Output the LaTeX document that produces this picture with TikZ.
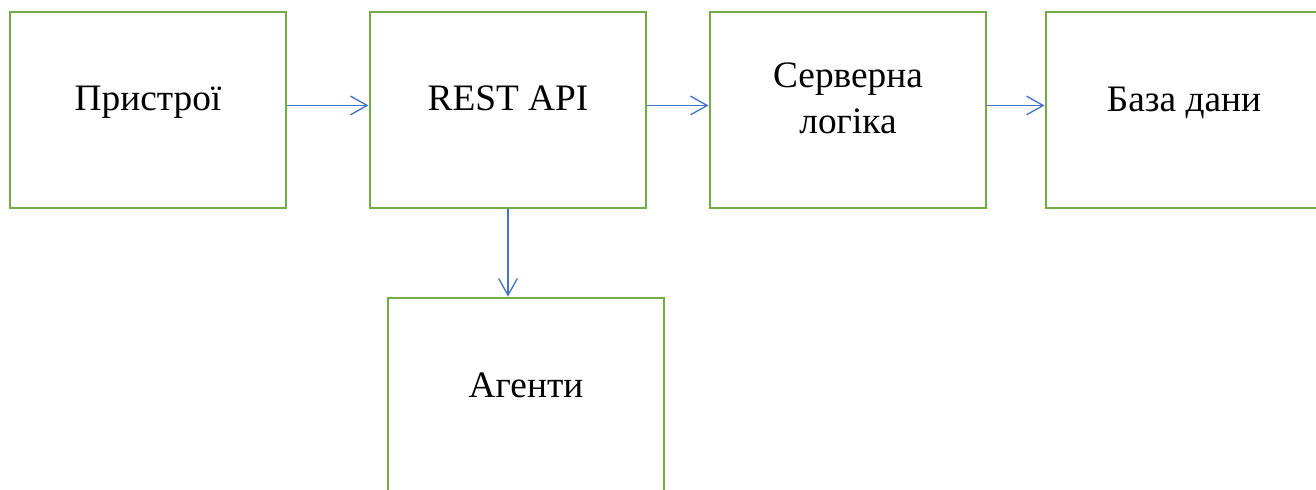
\documentclass[tikz,border=0pt]{standalone}
\usepackage{fontspec}
\setmainfont{Liberation Serif}
\usetikzlibrary{arrows.meta}
\definecolor{boxgreen}{HTML}{70AD47}
\definecolor{arrblue}{HTML}{4472C4}
\tikzset{
  blockbox/.style={draw=boxgreen, line width=2.2pt, rectangle, minimum width=207pt, minimum height=147pt, inner sep=0pt},
  lbl/.style={anchor=base, inner sep=0pt, font=\fontsize{28}{34.5}\selectfont, align=center},
  arr/.style={draw=arrblue, line width=1pt, -{Straight Barb[length=12.5pt,width=14pt,line width=1pt]}}
}
\begin{document}
\begin{tikzpicture}[x=0.75pt,y=-0.75pt]
\useasboundingbox (0,0) rectangle (1316,489);
\node[blockbox] (b1) at (148,110) {};
\node[blockbox] (b2) at (508,110) {};
\node[blockbox] (b3) at (848,110) {};
\node[blockbox] (b4) at (1184,110) {};
\node[blockbox] (b5) at (526,396) {};
\node[lbl] (t1) at (148,110) {Пристрої};
\node[lbl] (t2) at (508,110) {REST API};
\node[lbl] (t3) at (848,133) {Серверна\\логіка};
\node[lbl] (t4) at (1184,111) {База дани};
\node[lbl] (t5) at (526,397) {Агенти};
\draw[arr] ([yshift=3.4pt]b1.east) -- ([yshift=3.4pt]b2.west);
\draw[arr] ([yshift=3.4pt]b2.east) -- ([yshift=3.4pt]b3.west);
\draw[arr] ([yshift=3.4pt]b3.east) -- ([yshift=3.4pt]b4.west);
\draw[arr] (b2.south) -- (b2.south |- b5.north);
\end{tikzpicture}
\end{document}
